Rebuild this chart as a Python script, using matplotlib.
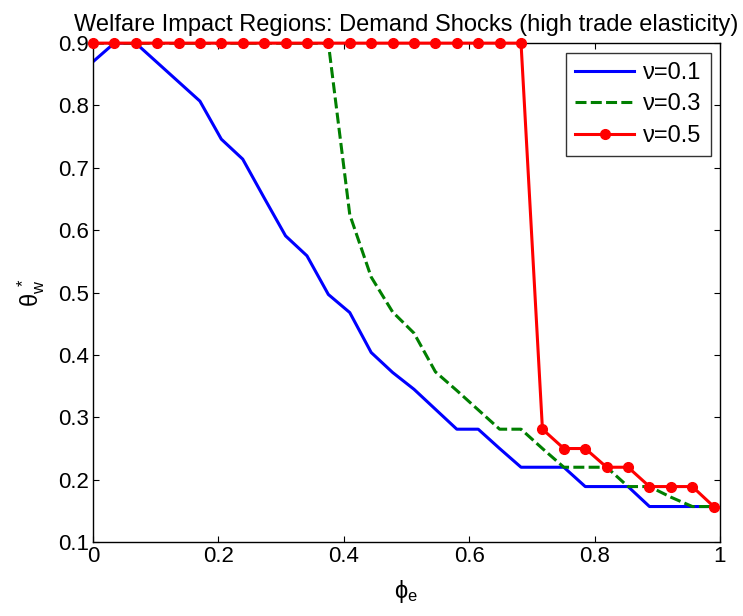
import numpy as np
import matplotlib
matplotlib.use('Agg')
import matplotlib.pyplot as plt

plt.rcParams['font.family'] = ['Liberation Sans', 'DejaVu Sans']
plt.rcParams['mathtext.fontset'] = 'custom'
plt.rcParams['mathtext.rm'] = 'Liberation Sans'
plt.rcParams['mathtext.it'] = 'Liberation Sans'

# Data
phi_e = np.linspace(0, 0.99, 30)
theta_nu01 = [0.870, 0.900, 0.900, 0.869, 0.838, 0.807, 0.746, 0.714, 0.652, 0.591,
              0.559, 0.497, 0.468, 0.404, 0.372, 0.345, 0.313, 0.281, 0.281, 0.250,
              0.220, 0.220, 0.220, 0.189, 0.189, 0.189, 0.157, 0.157, 0.157, 0.157]
theta_nu03 = [0.900, 0.900, 0.900, 0.900, 0.900, 0.900, 0.900, 0.900, 0.900, 0.900,
              0.900, 0.900, 0.625, 0.525, 0.469, 0.435, 0.373, 0.343, 0.312, 0.281,
              0.281, 0.250, 0.220, 0.220, 0.220, 0.189, 0.189, 0.172, 0.157, 0.157]
theta_nu05 = [0.900] * 21 + [0.281, 0.250, 0.250, 0.220, 0.220, 0.189, 0.189, 0.189, 0.157]

fig = plt.figure(figsize=(7.43, 6.16), dpi=100)
ax = fig.add_axes([0.125, 0.12, 0.844, 0.81])

ax.plot(phi_e, theta_nu01, color='#0000ff', lw=2.2, label='ν=0.1')
ax.plot(phi_e, theta_nu03, color='#007f00', lw=2.2, ls=(0, (3.6, 1.4)), label='ν=0.3')
ax.plot(phi_e, theta_nu05, color='#ff0000', lw=2.2, marker='o', ms=7, label='ν=0.5',
        clip_on=False, zorder=5)

ax.set_xlim(0, 1)
ax.set_ylim(0.1, 0.9)
ax.set_xticks([0, 0.2, 0.4, 0.6, 0.8, 1])
ax.set_xticklabels(['0', '0.2', '0.4', '0.6', '0.8', '1'])
ax.set_yticks(np.arange(0.1, 0.91, 0.1))
ax.set_yticklabels(['0.1', '0.2', '0.3', '0.4', '0.5', '0.6', '0.7', '0.8', '0.9'])
ax.tick_params(direction='in', top=True, right=True, labelsize=16, length=4.5, width=0.8, pad=3)
for s in ax.spines.values():
    s.set_linewidth(1.0)

ax.set_title('Welfare Impact Regions: Demand Shocks (high trade elasticity)', fontsize=17, pad=9)
ax.set_xlabel(r'$\mathrm{ϕ}_e$', fontsize=17, labelpad=8)
ax.set_ylabel(r'$\mathrm{θ}_w^{\ *}$', fontsize=17, labelpad=8)

leg = ax.legend(loc='upper right', fontsize=17, fancybox=False, edgecolor='black',
                handlelength=2.5, borderaxespad=0.4, labelspacing=0.4, handletextpad=0.35,
                borderpad=0.4)
leg.get_frame().set_linewidth(1.0)

fig.savefig('out.png', dpi=100)
